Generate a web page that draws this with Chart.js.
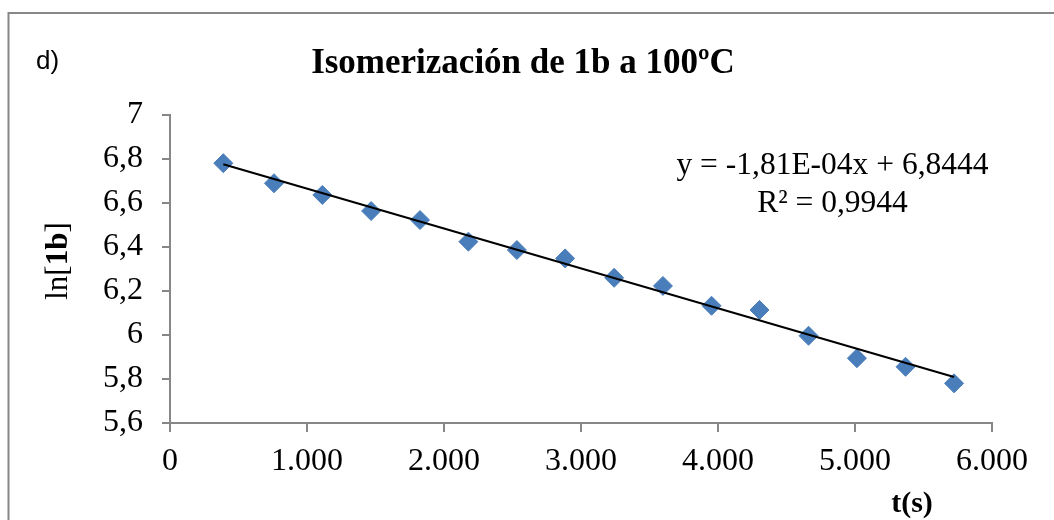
<!DOCTYPE html>
<html>
<head>
<meta charset="utf-8">
<script src="https://cdn.jsdelivr.net/npm/chart.js@4/dist/chart.umd.min.js"></script>
<style>
  html, body { margin: 0; padding: 0; background: #ffffff; }
  #c { display: block; }
</style>
</head>
<body>
<canvas id="c" width="1054" height="520"></canvas>
<script>
// ---- Data ----
const times = [389, 759, 1112, 1468, 1825, 2178, 2532, 2884, 3242, 3598, 3953, 4303, 4661, 5014, 5369, 5723];
const lnValues = [6.779, 6.688, 6.635, 6.562, 6.521, 6.423, 6.385, 6.347, 6.259, 6.222, 6.132, 6.113, 5.996, 5.894, 5.855, 5.780];
// Linear trendline as printed on the chart
const trendSlope = -1.81e-4;
const trendIntercept = 6.8444;
const trendX = [times[0], times[times.length - 1]];
const xTickLabels = ['0', '1.000', '2.000', '3.000', '4.000', '5.000', '6.000'];
const yTickLabels = ['5,6', '5,8', '6', '6,2', '6,4', '6,6', '6,8', '7'];
const chartTitle = 'Isomerización de 1b a 100ºC';
const panelLabel = 'd)';
const equationLines = ['y = -1,81E-04x + 6,8444', 'R² = 0,9944'];

const SERIF = "'Liberation Serif', 'Times New Roman', serif";
const SANS = "'Liberation Sans', Arial, sans-serif";
const AXIS_GRAY = '#878787';
const MARKER_BLUE = '#4a7ebb';

const pointsData = times.map((t, i) => ({ x: t, y: lnValues[i] }));
const trendData = trendX.map(x => ({ x: x, y: trendSlope * x + trendIntercept }));

const decorPlugin = {
  id: 'decor',
  beforeDraw(chart) {
    const ctx = chart.ctx;
    ctx.save();
    ctx.fillStyle = '#ffffff';
    ctx.fillRect(0, 0, chart.width, chart.height);
    ctx.strokeStyle = AXIS_GRAY;
    ctx.lineWidth = 2;
    ctx.strokeRect(8.5, 13, 1200, 700);
    ctx.restore();
  },
  afterDraw(chart) {
    const ctx = chart.ctx;
    ctx.save();
    ctx.fillStyle = '#000000';
    // panel label
    ctx.font = '26px ' + SANS;
    ctx.textAlign = 'left';
    ctx.textBaseline = 'alphabetic';
    ctx.fillText(panelLabel, 36, 69);
    // title
    ctx.font = 'bold 35px ' + SERIF;
    ctx.textAlign = 'center';
    ctx.fillText(chartTitle, 523, 73);
    // equation
    ctx.font = '31.5px ' + SERIF;
    ctx.fillText(equationLines[0], 832.5, 174);
    ctx.fillText(equationLines[1], 832.5, 212);
    // x axis title
    ctx.font = 'bold 30px ' + SERIF;
    ctx.fillText('t(s)', 912, 512);
    // y axis title: ln[ + bold 1b + ]
    const parts = [
      { t: 'ln[', f: '31px ' + SERIF },
      { t: '1b', f: 'bold 31px ' + SERIF },
      { t: ']', f: '31px ' + SERIF }
    ];
    let total = 0;
    parts.forEach(p => { ctx.font = p.f; p.w = ctx.measureText(p.t).width; total += p.w; });
    ctx.translate(67, 261);
    ctx.rotate(-Math.PI / 2);
    ctx.textAlign = 'left';
    let cx = -total / 2;
    parts.forEach(p => { ctx.font = p.f; ctx.fillText(p.t, cx, 0); cx += p.w; });
    ctx.restore();
  }
};

new Chart(document.getElementById('c'), {
  type: 'scatter',
  data: {
    datasets: [
      {
        label: 'trend',
        data: trendData,
        showLine: true,
        borderColor: '#000000',
        borderWidth: 2,
        pointRadius: 0,
        fill: false,
        order: 0
      },
      {
        label: 'ln[1b]',
        data: pointsData,
        pointStyle: 'rectRot',
        pointRadius: 9.5,
        backgroundColor: MARKER_BLUE,
        borderColor: MARKER_BLUE,
        borderWidth: 1,
        showLine: false,
        order: 1
      }
    ]
  },
  options: {
    responsive: false,
    devicePixelRatio: 1,
    animation: false,
    events: [],
    layout: { padding: { left: 0, right: 62, top: 114.5, bottom: 0 } },
    plugins: {
      legend: { display: false },
      tooltip: { enabled: false },
      title: { display: false }
    },
    scales: {
      x: {
        type: 'linear',
        min: 0,
        max: 6000,
        afterFit(scale) { scale.height = 97; },
        afterBuildTicks(scale) {
          scale.ticks = xTickLabels.map((l, i) => ({ value: i * 1000 }));
        },
        ticks: {
          padding: 10,
          color: '#000000',
          font: { family: SERIF, size: 32 },
          maxRotation: 0,
          autoSkip: false,
          callback: (v, i) => xTickLabels[i]
        },
        grid: { drawOnChartArea: false, drawTicks: true, tickLength: 9, color: AXIS_GRAY, lineWidth: 2 },
        border: { color: AXIS_GRAY, width: 2 }
      },
      y: {
        type: 'linear',
        min: 5.6,
        max: 7,
        afterFit(scale) { scale.width = 170; },
        afterBuildTicks(scale) {
          scale.ticks = yTickLabels.map((l, i) => ({ value: 5.6 + i * 0.2 }));
        },
        ticks: {
          padding: 19,
          color: '#000000',
          font: { family: SERIF, size: 32 },
          autoSkip: false,
          callback: (v, i) => yTickLabels[i]
        },
        grid: { drawOnChartArea: false, drawTicks: true, tickLength: 8, color: AXIS_GRAY, lineWidth: 2 },
        border: { color: AXIS_GRAY, width: 2 }
      }
    }
  },
  plugins: [decorPlugin]
});
</script>
</body>
</html>
